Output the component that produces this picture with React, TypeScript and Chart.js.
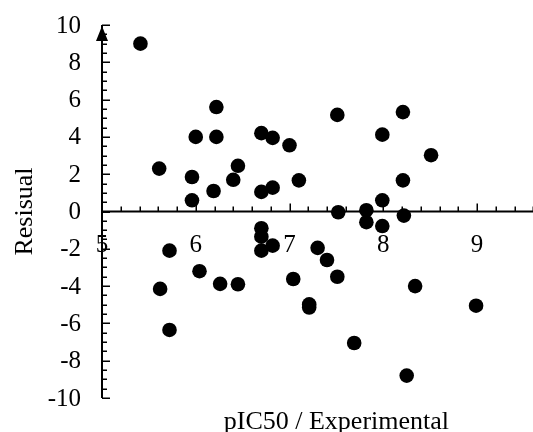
import { useEffect, useRef } from 'react';
import { Chart, registerables } from 'chart.js';

Chart.register(...registerables);

// pIC50 (experimental) values
const xValues = [
  5.41, 5.61, 5.96, 5.96, 6.0, 6.22, 6.22, 6.19, 6.4, 6.45,
  6.7, 6.82, 7.0, 6.7, 6.82, 7.1, 7.51, 7.99, 8.21, 8.51,
  8.21, 7.99, 7.52, 7.82, 7.82, 7.99, 8.22, 7.3, 7.4, 7.51,
  7.04, 7.21, 7.21, 8.34, 8.99, 7.69, 8.25, 6.82, 6.7, 6.7,
  6.7, 5.72, 5.62, 6.04, 6.26, 6.45, 5.72,
];
// residual values
const yValues = [
  9.0, 2.3, 1.85, 0.6, 4.0, 4.0, 5.6, 1.1, 1.7, 2.45,
  4.2, 3.95, 3.55, 1.05, 1.28, 1.67, 5.18, 4.12, 5.33, 3.02,
  1.67, 0.6, -0.04, 0.07, -0.57, -0.78, -0.22, -1.95, -2.6, -3.5,
  -3.62, -4.98, -5.15, -4.0, -5.05, -7.05, -8.8, -1.83, -0.9, -1.35,
  -2.1, -2.1, -4.15, -3.2, -3.88, -3.9, -6.35,
];

const xTickLabels = [5, 6, 7, 8, 9];
const yTickLabels = [10, 8, 6, 4, 2, 0, -2, -4, -6, -8, -10];
const xTitle = 'pIC50 / Experimental';
const yTitle = 'Resisual';

const TICK_FONT = '25px "Liberation Serif", "Times New Roman", serif';
const TITLE_FONT = '26px "Liberation Serif", "Times New Roman", serif';

const crossAxesPlugin = {
  id: 'crossAxes',
  beforeDatasetsDraw(chart: any) {
    const { ctx, chartArea } = chart;
    const xs = chart.scales.x;
    const ys = chart.scales.y;
    const x0 = xs.getPixelForValue(5);
    const y0 = ys.getPixelForValue(0);
    ctx.save();
    ctx.fillStyle = '#000';
    ctx.strokeStyle = '#000';

    // tick labels
    ctx.font = TICK_FONT;
    ctx.textAlign = 'right';
    ctx.textBaseline = 'middle';
    yTickLabels.forEach((v) => {
      ctx.fillText(String(v), x0 - 21, ys.getPixelForValue(v) + 1);
    });
    ctx.textAlign = 'center';
    xTickLabels.forEach((v) => {
      ctx.fillText(String(v), xs.getPixelForValue(v), y0 + 34);
    });

    // titles
    ctx.font = TITLE_FONT;
    ctx.textAlign = 'center';
    ctx.textBaseline = 'alphabetic';
    ctx.fillText(xTitle, (chartArea.left + chartArea.right) / 2, 429);
    ctx.save();
    ctx.translate(32, (chartArea.top + chartArea.bottom) / 2);
    ctx.rotate(-Math.PI / 2);
    ctx.fillText(yTitle, 0, 0);
    ctx.restore();

    // minor / major ticks on y axis (pointing right)
    ctx.lineWidth = 1.5;
    ctx.beginPath();
    for (let i = -20; i <= 20; i++) {
      const v = i / 2;
      const py = Math.round(ys.getPixelForValue(v)) + 0.25;
      const len = i % 4 === 0 ? 8 : 5;
      ctx.moveTo(x0, py);
      ctx.lineTo(x0 + len, py);
    }
    // ticks on x axis (pointing up)
    for (let i = 0; i <= 25; i++) {
      const v = 5 + i / 5;
      const px = Math.round(xs.getPixelForValue(v)) + 0.25;
      const len = i % 5 === 0 ? 8 : 5;
      ctx.moveTo(px, y0);
      ctx.lineTo(px, y0 - len);
    }
    ctx.stroke();

    // axis lines
    ctx.lineWidth = 2;
    ctx.beginPath();
    ctx.moveTo(x0, chartArea.top);
    ctx.lineTo(x0, chartArea.bottom);
    ctx.moveTo(x0, y0);
    ctx.lineTo(chartArea.right, y0);
    ctx.stroke();

    // arrow head
    const top = ys.getPixelForValue(10);
    ctx.beginPath();
    ctx.moveTo(x0, top + 1);
    ctx.lineTo(x0 - 6, top + 16);
    ctx.lineTo(x0 + 6, top + 16);
    ctx.closePath();
    ctx.fill();

    ctx.restore();
  },
};

export default function App() {
  const canvasRef = useRef<HTMLCanvasElement | null>(null);

  useEffect(() => {
    const canvas = canvasRef.current;
    if (!canvas) return;
    const points = xValues.map((x, i) => ({ x, y: yValues[i] }));
    const chart = new Chart(canvas, {
      type: 'scatter',
      data: {
        datasets: [
          {
            data: points,
            backgroundColor: '#000',
            borderColor: '#000',
            borderWidth: 0,
            pointRadius: 7.3,
            pointHoverRadius: 7.3,
          },
        ],
      },
      options: {
        responsive: false,
        animation: false,
        devicePixelRatio: 1,
        layout: { padding: { left: 102, top: 25, right: 29.25, bottom: 34 } },
        scales: {
          x: { type: 'linear', min: 5, max: 10, display: false },
          y: { type: 'linear', min: -10, max: 10, display: false },
        },
        plugins: {
          legend: { display: false },
          tooltip: { enabled: false },
        },
      },
      plugins: [crossAxesPlugin],
    });
    return () => chart.destroy();
  }, []);

  return (
    <div
      style={{
        position: 'fixed',
        left: 0,
        top: 0,
        width: 533,
        height: 432,
        overflow: 'hidden',
        background: '#fff',
      }}
    >
      <canvas ref={canvasRef} width={600} height={432} style={{ display: 'block' }} />
    </div>
  );
}
